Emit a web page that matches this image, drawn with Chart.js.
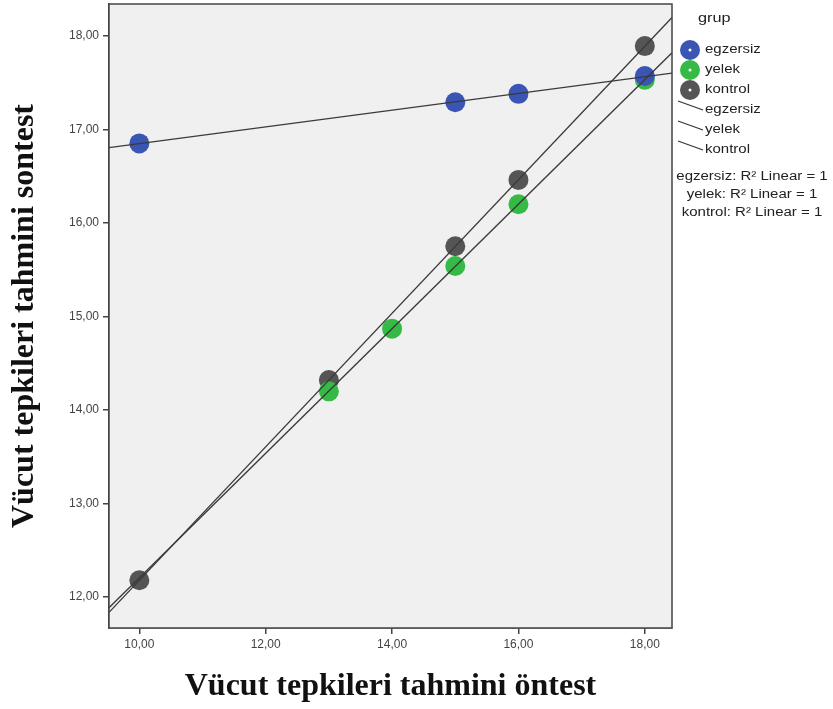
<!DOCTYPE html>
<html>
<head>
<meta charset="utf-8">
<script src="https://cdn.jsdelivr.net/npm/chart.js@4.4.1/dist/chart.umd.min.js"></script>
<style>
  html, body { margin: 0; padding: 0; background: #fff; }
  #wrap { width: 833px; height: 709px; }
</style>
</head>
<body>
<div id="wrap"><canvas id="scatter"></canvas></div>
<script>
// values
const groups = ['egzersiz', 'yelek', 'kontrol'];
const egzersizX = [10, 15, 16, 18];
const egzersizY = [16.85, 17.29, 17.38, 17.57];
const yelekX = [13, 14, 15, 16, 18];
const yelekY = [14.20, 14.87, 15.54, 16.20, 17.53];
const kontrolX = [10, 13, 15, 16, 18];
const kontrolY = [12.18, 14.32, 15.75, 16.46, 17.89];
const xTicks = [10, 12, 14, 16, 18];
const yTicks = [12, 13, 14, 15, 16, 17, 18];
const colors = ['#3a55b3', '#35bb45', '#555555'];

const xMin = 9.52, xMax = 18.43, yMin = 11.67, yMax = 18.34;

function pts(xs, ys) { return xs.map((x, i) => ({ x: x, y: ys[i] })); }

// least squares fit line across the x axis
function fit(xs, ys) {
  const n = xs.length;
  const mx = xs.reduce((a, b) => a + b, 0) / n;
  const my = ys.reduce((a, b) => a + b, 0) / n;
  let sxy = 0, sxx = 0;
  xs.forEach((x, i) => { sxy += (x - mx) * (ys[i] - my); sxx += (x - mx) * (x - mx); });
  const b = sxy / sxx, a = my - b * mx;
  return [{ x: xMin, y: a + b * xMin }, { x: xMax, y: a + b * xMax }];
}

const series = [[egzersizX, egzersizY], [yelekX, yelekY], [kontrolX, kontrolY]];
const fmt = v => v.toFixed(2).replace('.', ',');

const datasets = [];
series.forEach((s, i) => {
  datasets.push({
    type: 'scatter', label: groups[i], data: pts(s[0], s[1]),
    backgroundColor: colors[i], borderColor: colors[i], borderWidth: 0,
    pointRadius: 10, pointHoverRadius: 10, order: 2
  });
});
series.forEach((s, i) => {
  datasets.push({
    type: 'line', label: groups[i] + ' fit', data: fit(s[0], s[1]),
    borderColor: '#3a3a3a', borderWidth: 1.3, pointRadius: 0, fill: false, order: 1
  });
});

const plotFrame = {
  id: 'plotFrame',
  beforeDatasetsDraw(chart) {
    const { ctx, chartArea: a } = chart;
    ctx.save();
    ctx.fillStyle = '#f0f0f0';
    ctx.fillRect(a.left, a.top, a.right - a.left, a.bottom - a.top);
    ctx.restore();
  },
  afterDatasetsDraw(chart) {
    const { ctx, chartArea: a } = chart;
    ctx.save();
    ctx.strokeStyle = '#444';
    ctx.lineWidth = 1.5;
    ctx.strokeRect(a.left, a.top, a.right - a.left, a.bottom - a.top);
    ctx.restore();
  }
};

// text stretched a little wider, like the SPSS export
function wideText(ctx, s, x, y, align) {
  ctx.save();
  ctx.translate(x, y);
  ctx.scale(1.25, 1);
  ctx.textAlign = align || 'left';
  ctx.fillText(s, 0, 0);
  ctx.restore();
}

// SPSS style legend on the right
const spssLegend = {
  id: 'spssLegend',
  afterDraw(chart) {
    const { ctx, chartArea: a } = chart;
    const x0 = a.right + 18;
    ctx.save();
    ctx.fillStyle = '#222';
    ctx.textBaseline = 'middle';
    ctx.font = '13px "Liberation Sans", Arial, sans-serif';
    wideText(ctx, 'grup', x0 + 8, 18);
    ctx.font = '12px "Liberation Sans", Arial, sans-serif';
    groups.forEach((g, i) => {
      const y = 50 + i * 20;
      ctx.beginPath();
      ctx.arc(x0, y, 10, 0, Math.PI * 2);
      ctx.fillStyle = colors[i];
      ctx.fill();
      ctx.beginPath();
      ctx.arc(x0, y, 1.5, 0, Math.PI * 2);
      ctx.fillStyle = '#fff';
      ctx.fill();
      ctx.fillStyle = '#222';
      wideText(ctx, g, x0 + 15, y);
    });
    groups.forEach((g, i) => {
      const y = 110 + i * 20;
      ctx.beginPath();
      ctx.moveTo(a.right + 6, y - 9);
      ctx.lineTo(a.right + 31, y);
      ctx.strokeStyle = '#333';
      ctx.lineWidth = 1.2;
      ctx.stroke();
      wideText(ctx, g, x0 + 15, y);
    });
    groups.forEach((g, i) => {
      wideText(ctx, g + ': R\u00b2 Linear = 1', 752, 177 + i * 18, 'center');
    });
    ctx.restore();
  }
};

const titleFont = { family: '"Liberation Serif", "Times New Roman", serif', size: 32, weight: 'bold' };
const tickFont = { family: '"Liberation Sans", Arial, sans-serif', size: 12 };

new Chart(document.getElementById('scatter'), {
  data: { datasets: datasets },
  options: {
    responsive: true,
    maintainAspectRatio: false,
    animation: false,
    layout: { autoPadding: false, padding: { top: 4, right: 161, left: 0, bottom: 0 } },
    plugins: { legend: { display: false }, tooltip: { enabled: false } },
    scales: {
      x: {
        type: 'linear', min: xMin, max: xMax,
        afterBuildTicks: s => { s.ticks = xTicks.map(v => ({ value: v })); },
        afterFit: s => { s.height = 81; s.paddingLeft = 0; s.paddingRight = 0; },
        grid: { drawOnChartArea: false, drawTicks: true, tickLength: 6, color: '#444', lineWidth: 1.5 },
        border: { display: true, color: '#444', width: 1.5 },
        ticks: { font: tickFont, color: '#444', padding: 3, maxRotation: 0, callback: v => fmt(v) },
        title: { display: true, text: 'Vücut tepkileri tahmini öntest', font: titleFont, color: '#111', padding: { top: 4, bottom: 3 } }
      },
      y: {
        type: 'linear', min: yMin, max: yMax,
        afterBuildTicks: s => { s.ticks = yTicks.map(v => ({ value: v })); },
        afterFit: s => { s.width = 109; s.paddingTop = 0; s.paddingBottom = 0; },
        grid: { drawOnChartArea: false, drawTicks: true, tickLength: 6, color: '#444', lineWidth: 1.5 },
        border: { display: true, color: '#444', width: 1.5 },
        ticks: { font: tickFont, color: '#444', padding: 4, callback: v => fmt(v) },
        title: { display: true, text: 'Vücut tepkileri tahmini sontest', font: titleFont, color: '#111', padding: { top: 6, bottom: 4 } }
      }
    }
  },
  plugins: [plotFrame, spssLegend]
});
</script>
</body>
</html>
